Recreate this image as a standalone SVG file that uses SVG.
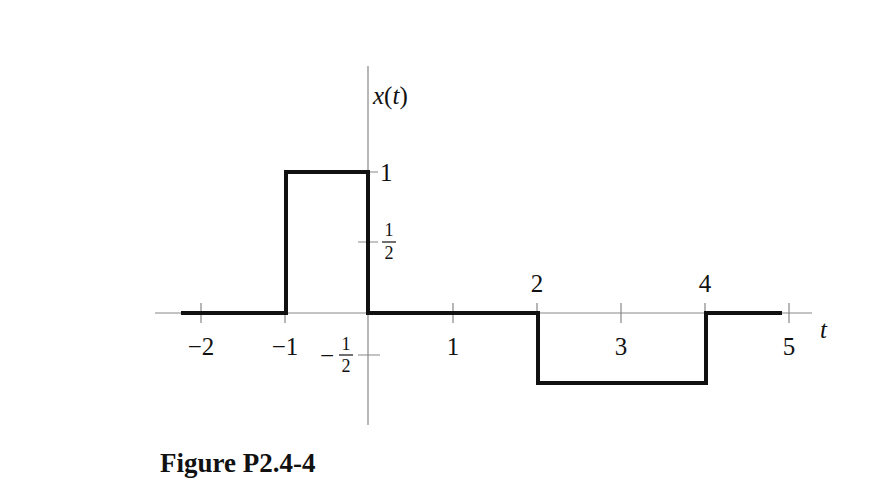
<svg xmlns="http://www.w3.org/2000/svg" width="878" height="496" viewBox="0 0 878 496">
<rect width="878" height="496" fill="#fff"/>
<g id="axes" stroke="#888" stroke-width="1.2" fill="none">
<line x1="155" y1="313" x2="812" y2="313"/>
<line x1="368" y1="66" x2="368" y2="425"/>
<path d="M201 303V323M285 303V323M453 303V323M537 303V323M621 303V323M705 303V323M789 303V323M368 172H378M358 242H378M358 355H380"/>
</g>
<g id="signal"><path d="M181 313H286V172H368V313H538V383H706V313H782" stroke="#111" stroke-width="4" fill="none"/></g>
<g id="labels" font-family="'Liberation Serif', serif" font-size="25" fill="#111">
<text x="373" y="104"><tspan font-style="italic">x</tspan>(<tspan font-style="italic">t</tspan>)</text>
<text x="380" y="181">1</text>
<text x="389" y="236" font-size="18" text-anchor="middle">1</text><line x1="382" y1="242" x2="396" y2="242" stroke="#111" stroke-width="1.2"/><text x="389" y="259" font-size="18" text-anchor="middle">2</text>
<text x="320" y="364">−</text>
<text x="346" y="350" font-size="18" text-anchor="middle">1</text><line x1="339" y1="355" x2="353" y2="355" stroke="#111" stroke-width="1.2"/><text x="346" y="372" font-size="18" text-anchor="middle">2</text>
<text x="201" y="355" text-anchor="middle">−2</text>
<text x="285" y="355" text-anchor="middle">−1</text>
<text x="453" y="355" text-anchor="middle">1</text>
<text x="621" y="355" text-anchor="middle">3</text>
<text x="789" y="355" text-anchor="middle">5</text>
<text x="537" y="292" text-anchor="middle">2</text>
<text x="705" y="292" text-anchor="middle">4</text>
<text x="820" y="338" font-style="italic">t</text>
<text x="160" y="472" font-weight="bold" font-size="27">Figure P2.4-4</text>
</g>
</svg>
